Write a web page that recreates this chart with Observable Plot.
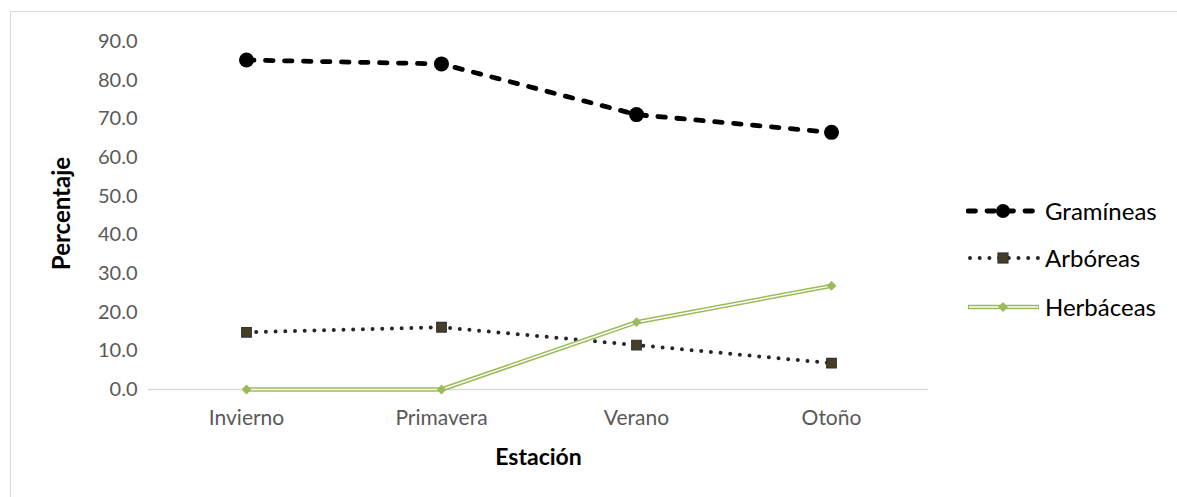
<!DOCTYPE html>
<html>
<head>
<meta charset="utf-8">
<script src="https://cdn.jsdelivr.net/npm/d3@7"></script>
<script src="https://cdn.jsdelivr.net/npm/@observablehq/plot@0.6"></script>
<style>
  html, body { margin: 0; padding: 0; background: #fff; }
  #wrap { position: relative; width: 1177px; height: 497px; overflow: hidden; font-family: Lato, "Open Sans", sans-serif; }
  #frame { position: absolute; left: 10px; top: 11px; width: 1200px; height: 520px;
           border-left: 1.5px solid #d9d9d9; border-top: 1.5px solid #d9d9d9; pointer-events: none; }
  #chart { position: absolute; left: 0; top: 0; }
  .legend-row { position: absolute; left: 966px; height: 24px; display: flex; align-items: center; }
  .legend-row svg { display: block; }
  .legend-row span { font-size: 24px; color: #000; margin-left: 4px; line-height: 24px; }
</style>
</head>
<body>
<div id="wrap">
  <div id="frame"></div>
  <div id="chart"></div>
  <div id="legend"></div>
</div>
<script>
// Seasons on the x axis
const estaciones = ["Invierno", "Primavera", "Verano", "Otoño"];

// Percentage of each plant group per season
const gramineas = [85.2, 84.2, 71.1, 66.5];
const arboreas  = [14.8, 16.1, 11.5, 6.8];
const herbaceas = [0.0, 0.0, 17.4, 26.8];

// Y axis ticks
const yTicks = [0, 10, 20, 30, 40, 50, 60, 70, 80, 90];

const series = ["Gramíneas", "Arbóreas", "Herbáceas"];

const rows = (values) => estaciones.map((e, i) => ({estacion: e, valor: values[i]}));
const dGram = rows(gramineas);
const dArb = rows(arboreas);
const dHerb = rows(herbaceas);

const green = "#9bbb59";

const chart = Plot.plot({
  width: 1177,
  height: 497,
  marginLeft: 148,
  marginRight: 249,
  marginTop: 41,
  marginBottom: 108,
  style: {fontFamily: "Lato, 'Open Sans', sans-serif", background: "transparent", overflow: "visible"},
  x: {type: "point", domain: estaciones, padding: 0.5, label: null},
  y: {domain: [0, 90], label: null},
  marks: [
    Plot.ruleY([0], {stroke: "#d9d9d9", strokeWidth: 1.5}),
    Plot.axisY({ticks: yTicks, tickSize: 0, tickPadding: 11, tickFormat: d3.format(".1f"),
                fontSize: 20, fill: "#595959", label: null}),
    Plot.axisX({tickSize: 0, tickPadding: 21, fontSize: 21, fill: "#595959", label: null}),
    Plot.text(["Estación"], {frameAnchor: "bottom", dy: 75, fontSize: 23, fontWeight: "bold", fill: "#000"}),
    Plot.text(["Percentaje"], {frameAnchor: "left", textAnchor: "middle", dx: -86, dy: -2, rotate: -90,
                               fontSize: 24, fontWeight: "bold", fill: "#000"}),

    // Gramíneas: thick dashed black line with round markers
    Plot.line(dGram, {x: "estacion", y: "valor", stroke: "#000", strokeWidth: 4.8,
                      strokeDasharray: "7.5,11.5", strokeLinecap: "round"}),
    Plot.dot(dGram, {x: "estacion", y: "valor", r: 7.5, fill: "#000", stroke: "none"}),

    // Arbóreas: round-dotted line with square markers
    Plot.line(dArb, {x: "estacion", y: "valor", stroke: "#262626", strokeWidth: 4,
                     strokeDasharray: "0,9.7", strokeLinecap: "round"}),
    Plot.dot(dArb, {x: "estacion", y: "valor", symbol: "square", r: 5.4, fill: "#463f25",
                    stroke: "#303030", strokeWidth: 1.2}),

    // Herbáceas: green double line with diamond markers
    Plot.line(dHerb, {x: "estacion", y: "valor", stroke: green, strokeWidth: 4.5}),
    Plot.line(dHerb, {x: "estacion", y: "valor", stroke: "#fff", strokeWidth: 1.4}),
    Plot.dot(dHerb, {x: "estacion", y: "valor", symbol: "diamond2", r: 4.4, fill: green, stroke: "none"})
  ]
});
document.getElementById("chart").appendChild(chart);

// Legend on the right
const legend = document.getElementById("legend");
const legendTops = [199, 246, 295];
const swatches = [
  `<line x1="2" y1="12" x2="73" y2="12" stroke="#000" stroke-width="4.8" stroke-dasharray="7.5,11.5" stroke-linecap="round"/>
   <circle cx="37" cy="12" r="7" fill="#000"/>`,
  `<line x1="4" y1="12" x2="73" y2="12" stroke="#262626" stroke-width="4" stroke-dasharray="0,9.7" stroke-linecap="round"/>
   <rect x="32" y="7" width="10" height="10" fill="#463f25" stroke="#303030" stroke-width="1.2"/>`,
  `<line x1="2" y1="12" x2="73" y2="12" stroke="${green}" stroke-width="4.5"/>
   <line x1="3" y1="12" x2="72" y2="12" stroke="#fff" stroke-width="1.4"/>
   <path d="M37,7 L42,12 L37,17 L32,12 Z" fill="${green}"/>`
];
series.forEach((name, i) => {
  const row = document.createElement("div");
  row.className = "legend-row";
  row.style.top = legendTops[i] + "px";
  row.innerHTML = `<svg width="75" height="24" viewBox="0 0 75 24">${swatches[i]}</svg><span>${name}</span>`;
  legend.appendChild(row);
});
</script>
</body>
</html>
